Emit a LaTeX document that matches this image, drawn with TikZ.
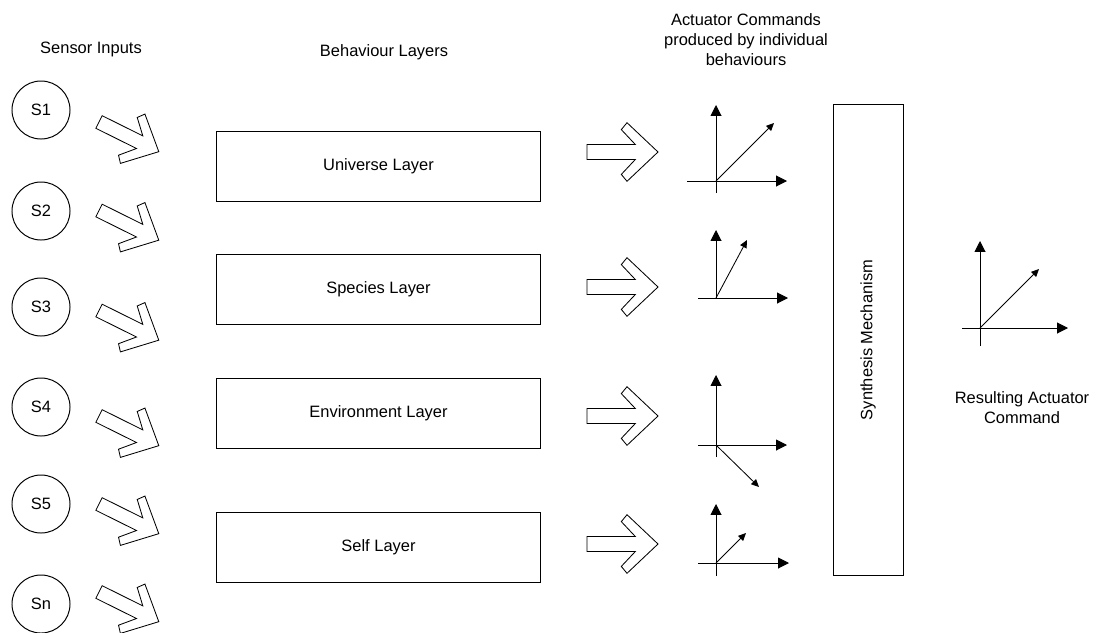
\documentclass[tikz,border=0pt]{standalone}
\usepackage{fontspec}
\setmainfont{Liberation Sans}
\usetikzlibrary{arrows.meta}

\tikzset{
	every node/.style={font=\fontsize{11.7}{14.2}\selectfont, align=center},
	sensor/.style={draw, circle, line width=0.7pt, minimum size=1.45cm, inner sep=0pt},
	layer/.style={draw, line width=0.7pt, minimum width=8.09cm, minimum height=1.75cm},
	axis/.style={line width=0.7pt, -{Triangle[length=7.8pt,width=7.8pt]}},
	vec/.style={line width=0.6pt, -{Triangle[length=5.5pt,width=5pt]}},
	% hollow block arrow, tail centre at the origin, pointing along +x
	blockarrow/.pic={
		\draw[line width=0.6pt] (0,-7.5) -- (48.3,-7.5) -- (34.3,-22.4) -- (40,-29.3) -- (71,0)
			-- (40,29.3) -- (34.3,22.4) -- (48.3,7.5) -- (0,7.5) -- cycle;
	}
}

\begin{document}
\begin{tikzpicture}[x=0.025cm, y=-0.025cm]
			\useasboundingbox (0,0) rectangle (1096,632);
			
			% column headings
			\node (insTitle) at (91,49) {Sensor Inputs};
			\node (layTitle) at (384,52) {Behaviour Layers};
			\node (cmdTitle) at (746,40) {Actuator Commands\\produced by individual\\behaviours};
			
			% sensors
			\node[sensor] (s1) at (41,110) {S1};
			\node[sensor] (s2) at (41,211) {S2};
			\node[sensor] (s3) at (41,307) {S3};
			\node[sensor] (s4) at (41,407) {S4};
			\node[sensor] (s5) at (41,504) {S5};
			\node[sensor] (sn) at (41,604) {Sn};
			
			\pic[rotate=-26.4, scale=0.94] at (99,122) {blockarrow};
			\pic[rotate=-26.4, scale=0.94] at (99,210.5) {blockarrow};
			\pic[rotate=-26.4, scale=0.94] at (99,310.5) {blockarrow};
			\pic[rotate=-26.4, scale=0.94] at (99,416) {blockarrow};
			\pic[rotate=-26.4, scale=0.94] at (99,504) {blockarrow};
			\pic[rotate=-26.4, scale=0.94] at (99,592) {blockarrow};
			
			% behaviour layers
			\node[layer] (universe) at (378.5,166) {Universe Layer};
			\node[layer] (species) at (378.5,289) {Species Layer};
			\node[layer] (environment) at (378.5,413) {Environment Layer};
			\node[layer] (self) at (378.5,547.5) {Self Layer};
			
			\pic at (587,152) {blockarrow};
			\pic at (587,287) {blockarrow};
			\pic at (587,416) {blockarrow};
			\pic at (587,544) {blockarrow};
			
			% actuator commands of each layer
			\draw[axis] (716,193) -- (716,105);
			\draw[axis] (687,181) -- (787,181);
			\draw[vec] (716,181) -- (774,123);
			
			\draw[axis] (716,298) -- (716,230);
			\draw[axis] (698,298) -- (788,298);
			\draw[vec] (716,298) -- (747,240);
			
			\draw[axis] (716,457) -- (716,375);
			\draw[axis] (698,445) -- (787,445);
			\draw[vec] (716,445) -- (759,487);
			
			\draw[axis] (716,576) -- (716,504);
			\draw[axis] (698,563) -- (789,563);
			\draw[vec] (716,563) -- (746,533);
			
			% synthesis and result
			\node[draw, line width=0.7pt, rotate=90, minimum width=11.775cm, minimum height=1.75cm] (synth) at (868,340) {Synthesis Mechanism};
			
			\draw[axis] (980,346) -- (980,241);
			\draw[axis] (962,328) -- (1068,328);
			\draw[vec] (980,328) -- (1039,269);
			\node (result) at (1022,408) {Resulting Actuator\\Command};
		\end{tikzpicture}
\end{document}
